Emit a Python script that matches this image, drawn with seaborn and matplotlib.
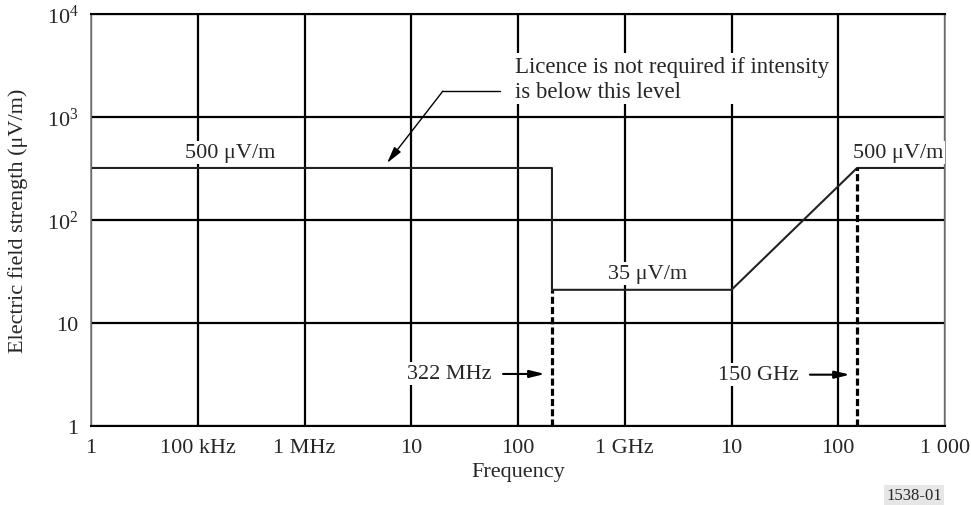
import numpy as np
import pandas as pd
import matplotlib
matplotlib.use("Agg")
import matplotlib.pyplot as plt
import seaborn as sns

# Limit curve (Hz and uV/m)
freq_hz = [1e4, 2.08e8, 2.08e8, 1e10, 1.5e11, 1e12]
field_uv = [320, 320, 21, 21, 320, 320]

# dashed markers at the frequency limits
limit_freq = [2.08e8, 1.5e11]
limit_top = [21, 320]

x_ticks = [1e4, 1e5, 1e6, 1e7, 1e8, 1e9, 1e10, 1e11, 1e12]
x_labels = ["1", "100 kHz", "1 MHz", "10", "100", "1 GHz", "10", "100", "1 000"]
y_ticks = [1, 10, 100, 1000, 10000]
y_labels = ["1", "10", r"$\mathregular{10^2}$", r"$\mathregular{10^3}$", r"$\mathregular{10^4}$"]

sns.set_style("white")
plt.rcParams["font.family"] = ["Liberation Serif", "DejaVu Serif"]
plt.rcParams["mathtext.fontset"] = "custom"
plt.rcParams["mathtext.rm"] = "Liberation Serif"
FS = 16

fig = plt.figure(figsize=(9.71, 5.06), dpi=100)
ax = fig.add_axes([91 / 971, 79 / 506, 854 / 971, 412 / 506])
ax.set_xscale("log")
ax.set_yscale("log")
ax.set_xlim(1e4, 1e12)
ax.set_ylim(1, 1e4)

ax.set_axisbelow(True)
ax.grid(True, which="major", color="black", lw=1.6)

df = pd.DataFrame({"freq": freq_hz, "field": field_uv})
sns.lineplot(data=df, x="freq", y="field", sort=False, estimator=None,
             color="#222222", lw=1.5, ax=ax, zorder=2)

for f, top in zip(limit_freq, limit_top):
    ax.plot([f, f], [1, top], color="black", lw=2.3, dashes=(2.2, 1.0), zorder=2)

ax.set_xticks(x_ticks)
ax.set_xticklabels(x_labels)
ax.set_yticks(y_ticks)
ax.set_yticklabels(y_labels)
ax.minorticks_off()
ax.tick_params(axis="x", length=0, pad=9, labelsize=FS)
ax.tick_params(axis="y", length=0, pad=9, labelsize=FS)

ax.set_xlabel("Frequency", fontsize=FS)
ax.set_ylabel("Electric field strength (μV/m)", fontsize=FS)
ax.xaxis.set_label_coords(0.5, -0.087)
ax.yaxis.set_label_coords(-0.074, 0.5)

for side in ["top", "bottom"]:
    ax.spines[side].set_color("black")
    ax.spines[side].set_linewidth(1.5)
for side in ["left", "right"]:
    ax.spines[side].set_color("#808080")
    ax.spines[side].set_linewidth(1.2)

box = dict(facecolor="white", edgecolor="none", pad=1.5)
ax.text(2.0e5, 457, "500 μV/m", ha="center", va="center", fontsize=FS, bbox=box)
ax.text(3.63e11, 457, "500 μV/m", ha="center", va="center", fontsize=FS, bbox=box)
ax.text(1.65e9, 30.5, "35 μV/m", ha="center", va="center", fontsize=FS, bbox=box)

ax.text(9.4e7, 2350, "Licence is not required if intensity\nis below this level",
        ha="left", va="center", fontsize=16.5, linespacing=1.28, bbox=box)
ax.plot([6.76e7, 1.98e7], [1786, 1786], color="black", lw=1.0)
ax.annotate("", xy=(5.93e6, 357), xytext=(1.98e7, 1786),
            arrowprops=dict(arrowstyle="-|>,head_length=1.0,head_width=0.25",
                            color="black", lw=1.0, shrinkA=0, shrinkB=0))

ax.text(5.7e7, 3.2, "322 MHz", ha="right", va="center", fontsize=FS, bbox=box)
ax.annotate("", xy=(1.79e8, 3.2), xytext=(7.24e7, 3.2),
            arrowprops=dict(arrowstyle="-|>,head_length=0.9,head_width=0.22",
                            color="black", lw=1.5, shrinkA=0, shrinkB=0))
ax.text(4.29e10, 3.15, "150 GHz", ha="right", va="center", fontsize=FS, bbox=box)
ax.annotate("", xy=(1.29e11, 3.15), xytext=(5.43e10, 3.15),
            arrowprops=dict(arrowstyle="-|>,head_length=0.9,head_width=0.22",
                            color="black", lw=1.5, shrinkA=0, shrinkB=0))

fig.text(886 / 971, 1 - 496 / 506, "1538-01", ha="left", va="center", fontsize=12,
         bbox=dict(facecolor="#e6e6e6", edgecolor="none", pad=1.5))

fig.savefig("out.png", dpi=100)
